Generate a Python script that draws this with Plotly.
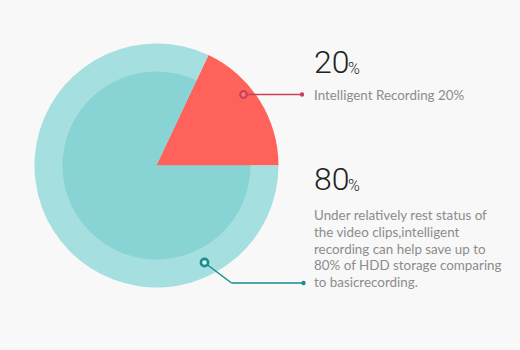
import plotly.graph_objects as go

# Data
categories = ["Intelligent Recording", "Basic Recording"]
slice_shares = [18, 82]          # share of circle as drawn
label_values = [20, 80]          # percentages printed in the text
headline_texts = ["20", "80"]
desc_20 = "Intelligent Recording 20%"
desc_80_lines = [
    "Under relatively rest status of",
    "the video clips,intelligent",
    "recording can help save up to",
    "80% of HDD storage comparing",
    "to basicrecording.",
]

W, H = 520, 350
BG = "#f8f8f8"
RED = "#ff625a"
TEAL_OUT = "#a6dfe0"
TEAL_IN = "#88d4d4"
RED_DARK = "#c8405a"
TEAL_DARK = "#13918f"

cx, cy = 156.5, 165.5
R_out, R_in = 122, 94

def dom(r):
    return dict(x=[(cx - r) / W, (cx + r) / W],
                y=[1 - (cy + r) / H, 1 - (cy - r) / H])

# first slice ends at 3 o'clock, drawn clockwise
rot = 90 - 360 * slice_shares[0] / sum(slice_shares)

fig = go.Figure()
fig.add_trace(go.Pie(labels=categories, values=slice_shares, sort=False,
                     direction="clockwise", rotation=rot,
                     marker=dict(colors=[RED, TEAL_OUT], line=dict(width=0)),
                     textinfo="none", hoverinfo="label", domain=dom(R_out),
                     showlegend=False))
fig.add_trace(go.Pie(labels=categories, values=slice_shares, sort=False,
                     direction="clockwise", rotation=rot,
                     marker=dict(colors=[RED, TEAL_IN], line=dict(width=0)),
                     textinfo="none", hoverinfo="label", domain=dom(R_in),
                     showlegend=False))

shapes = []

def seg(pts, color):
    for (x0, y0), (x1, y1) in zip(pts[:-1], pts[1:]):
        shapes.append(dict(type="line", xref="x", yref="y", x0=x0, y0=y0,
                           x1=x1, y1=y1, layer="above",
                           line=dict(color=color, width=1.5)))

def dot(x, y, r, fill, color, w):
    shapes.append(dict(type="circle", xref="x", yref="y", x0=x - r, x1=x + r,
                       y0=y - r, y1=y + r, layer="above", fillcolor=fill,
                       line=dict(color=color, width=w)))

seg([(244, 94.5), (302, 94.5)], RED_DARK)
dot(302, 94.5, 2.2, RED_DARK, RED_DARK, 0)
dot(243.5, 94.5, 3.3, "rgba(255,140,140,0.6)", RED_DARK, 2.2)

seg([(205, 263), (231.5, 283), (303.5, 283)], TEAL_DARK)
dot(303.5, 283, 2.2, TEAL_DARK, TEAL_DARK, 0)
dot(204.5, 262.5, 3.6, "#e8f7f7", TEAL_DARK, 2.6)

big_font = dict(family="Roboto", size=32, color="#222222", weight=300)
pct_font = dict(family="Roboto", size=16, color="#222222", weight=300)
body_font = dict(family="Lato", size=13.4, color="#8c8c8c")

annotations = []
for txt, yc in zip(headline_texts, [62, 179]):
    annotations.append(dict(x=312, y=yc, xref="x", yref="y", text=txt,
                            xanchor="left", yanchor="middle", showarrow=False,
                            font=big_font))
    annotations.append(dict(x=346, y=yc + 6, xref="x", yref="y", text="%",
                            xanchor="left", yanchor="middle", showarrow=False,
                            font=pct_font))
annotations.append(dict(x=312, y=95, xref="x", yref="y", text=desc_20,
                        xanchor="left", yanchor="middle", showarrow=False,
                        font=body_font))
for i, line in enumerate(desc_80_lines):
    annotations.append(dict(x=312, y=215 + i * 16.75, xref="x", yref="y",
                            text=line, xanchor="left", yanchor="middle",
                            showarrow=False, font=body_font))

fig.update_layout(
    width=W, height=H, margin=dict(l=0, r=0, t=0, b=0),
    paper_bgcolor=BG, plot_bgcolor="rgba(0,0,0,0)",
    xaxis=dict(range=[0, W], visible=False, fixedrange=True),
    yaxis=dict(range=[H, 0], visible=False, fixedrange=True),
    annotations=annotations, shapes=shapes,
)
fig.write_html("out.html")
